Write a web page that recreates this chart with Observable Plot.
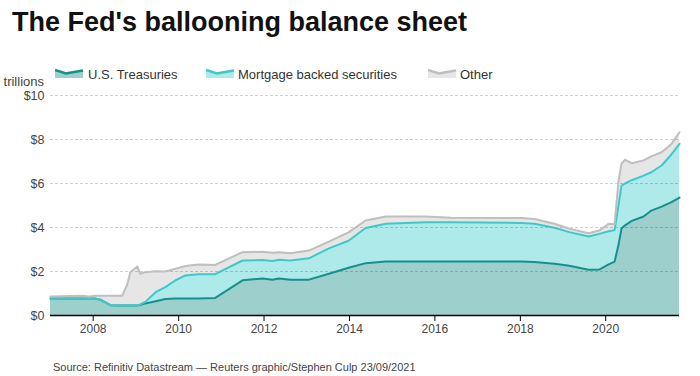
<!DOCTYPE html>
<html>
<head>
<meta charset="utf-8">
<script src="https://cdn.jsdelivr.net/npm/d3@7"></script>
<script src="https://cdn.jsdelivr.net/npm/@observablehq/plot@0.6"></script>
<style>
  body { margin: 0; background: #fff; font-family: "Liberation Sans", Arial, sans-serif; }
  #wrap { position: relative; width: 700px; height: 376px; overflow: hidden; }
  #title { position: absolute; z-index: 2; left: 12px; top: 9px; font-size: 27px; line-height: 27px; font-weight: bold; color: #111; white-space: nowrap; }
  .leg { position: absolute; z-index: 2; top: 68px; font-size: 13px; line-height: 13px; color: #333; white-space: nowrap; }
  .sw { position: absolute; z-index: 2; top: 68px; }
  #unit { position: absolute; z-index: 2; left: 0; width: 44px; text-align: right; top: 75px; font-size: 13px; line-height: 13px; color: #444; }
  #chart { position: absolute; z-index: 1; left: 0; top: 80px; }
  #source { position: absolute; z-index: 2; left: 53px; top: 362px; font-size: 11px; line-height: 11px; color: #444; white-space: nowrap; }
</style>
</head>
<body>
<div id="wrap">
  <div id="chart"></div>
  <div id="title">The Fed's ballooning balance sheet</div>
  <div id="legend"></div>
  <div id="unit">trillions</div>
  <div id="source">Source: Refinitiv Datastream — Reuters graphic/Stephen Culp 23/09/2021</div>
</div>
<script>
// ---- data (trillions of dollars, component values) ----
const seriesNames = ["U.S. Treasuries", "Mortgage backed securities", "Other"];
const dates = [
  "2007-01-01","2007-09-27","2007-11-24","2008-01-19","2008-03-03","2008-05-27","2008-09-06",
  "2008-10-20","2008-11-14","2009-01-12","2009-02-06","2009-03-22","2009-06-18","2009-09-09",
  "2009-12-02","2010-02-28","2010-06-18","2010-11-10","2011-07-01","2011-12-20","2012-03-13",
  "2012-05-08","2012-08-15","2013-01-19","2013-07-09","2013-12-24","2014-05-19","2014-11-07",
  "2015-04-28","2015-10-16","2016-05-19","2018-01-08","2018-05-01","2018-10-19","2019-02-24",
  "2019-08-08","2019-11-06","2020-01-26","2020-03-17","2020-04-19","2020-05-15","2020-06-14",
  "2020-08-11","2020-11-20","2021-01-25","2021-04-23","2021-07-16","2021-09-23"
];
const treasuries = [
  0.77,0.77,0.77,0.77,0.72,0.47,0.46,
  0.46,0.46,0.46,0.48,0.55,0.65,0.75,
  0.77,0.77,0.77,0.80,1.60,1.68,1.63,
  1.68,1.62,1.63,1.90,2.17,2.38,2.45,
  2.46,2.46,2.46,2.46,2.43,2.35,2.26,
  2.08,2.09,2.32,2.45,3.20,3.95,4.10,
  4.30,4.50,4.77,4.95,5.15,5.36
];
const mortgageBacked = [
  0,0,0,0,0,0,0,
  0,0,0,0.02,0.07,0.41,0.54,
  0.82,1.05,1.11,1.08,0.90,0.84,0.85,
  0.85,0.88,0.97,1.15,1.23,1.60,1.72,
  1.74,1.78,1.78,1.75,1.74,1.64,1.53,
  1.51,1.62,1.51,1.43,1.80,1.95,1.90,
  1.85,1.86,1.74,1.87,2.17,2.44
];
const other = [
  0.09,0.13,0.09,0.13,0.18,0.43,0.44,
  0.98,1.51,1.77,1.40,1.35,0.95,0.71,
  0.53,0.43,0.44,0.42,0.38,0.38,0.37,
  0.35,0.33,0.35,0.31,0.38,0.34,0.33,
  0.30,0.26,0.20,0.22,0.22,0.18,0.15,
  0.15,0.15,0.34,0.27,1.10,1.00,1.08,
  0.77,0.69,0.72,0.60,0.48,0.53
];
const yTicks = [0, 2, 4, 6, 8, 10];
const xTickYears = [2008, 2010, 2012, 2014, 2016, 2018, 2020];

// ---- styles ----
const fillColors = ["#9dcfcc", "#aeeaea", "#e6e6e6"];
const lineColors = ["#14918e", "#40c8c8", "#bfbfbf"];

// ---- long table ----
const valuesBySeries = [treasuries, mortgageBacked, other];
const data = [];
dates.forEach((d, i) => {
  seriesNames.forEach((s, j) => {
    data.push({date: new Date(d + "T00:00:00Z"), series: s, value: valuesBySeries[j][i]});
  });
});

// ---- legend ----
const legend = document.getElementById("legend");
const legendPos = [[55, 88], [206, 238], [428, 460]];
seriesNames.forEach((s, j) => {
  const sw = document.createElementNS("http://www.w3.org/2000/svg", "svg");
  sw.setAttribute("class", "sw");
  sw.setAttribute("width", 29);
  sw.setAttribute("height", 11);
  sw.style.left = legendPos[j][0] + "px";
  sw.innerHTML = `<path d="M0,10 L0,2 L11,5.5 L19,4 L28,2.5 L28,10 Z" fill="${fillColors[j]}"/>` +
    `<path d="M0,2 L11,5.5 L19,4 L28,2.5" fill="none" stroke="${lineColors[j]}" stroke-width="2.5"/>`;
  legend.appendChild(sw);
  const t = document.createElement("div");
  t.className = "leg";
  t.style.left = legendPos[j][1] + "px";
  t.textContent = s;
  legend.appendChild(t);
});

// ---- chart ----
const colorDomain = [...seriesNames, ...seriesNames.map(s => s + " line")];
const colorRange = [...fillColors, ...lineColors];

const chart = Plot.plot({
  width: 700,
  height: 265,
  marginLeft: 50,
  marginRight: 21,
  marginTop: 15,
  marginBottom: 30,
  style: {fontFamily: "Liberation Sans, Arial, sans-serif", fontSize: "12px", color: "#444", background: "transparent", overflow: "visible"},
  x: {type: "utc", domain: [new Date("2007-01-01T00:00:00Z"), new Date("2021-09-23T00:00:00Z")]},
  y: {domain: [0, 10]},
  color: {domain: colorDomain, range: colorRange},
  marks: [
    Plot.areaY(data, Plot.stackY({x: "date", y: "value", z: "series", fill: "series", order: seriesNames})),
    Plot.gridY(yTicks, {stroke: "#000", strokeOpacity: 0.18, strokeDasharray: "3,2"}),
    Plot.lineY(data, Plot.stackY2({x: "date", y: "value", z: "series", stroke: d => d.series + " line", order: seriesNames, strokeWidth: 2, strokeLinejoin: "round"})),
    Plot.axisY({ticks: yTicks, tickFormat: d => "$" + d, tickSize: 0, tickPadding: 6, fontSize: 12.5, label: null}),
    Plot.axisX({ticks: xTickYears.map(y => new Date(Date.UTC(y, 0, 1))), tickFormat: d3.utcFormat("%Y"), tickSize: 6, tickPadding: 3, fontSize: 12, label: null, stroke: "#000"}),
    Plot.ruleY([0], {stroke: "#000", strokeWidth: 1.5})
  ]
});
document.getElementById("chart").appendChild(chart);
</script>
</body>
</html>
